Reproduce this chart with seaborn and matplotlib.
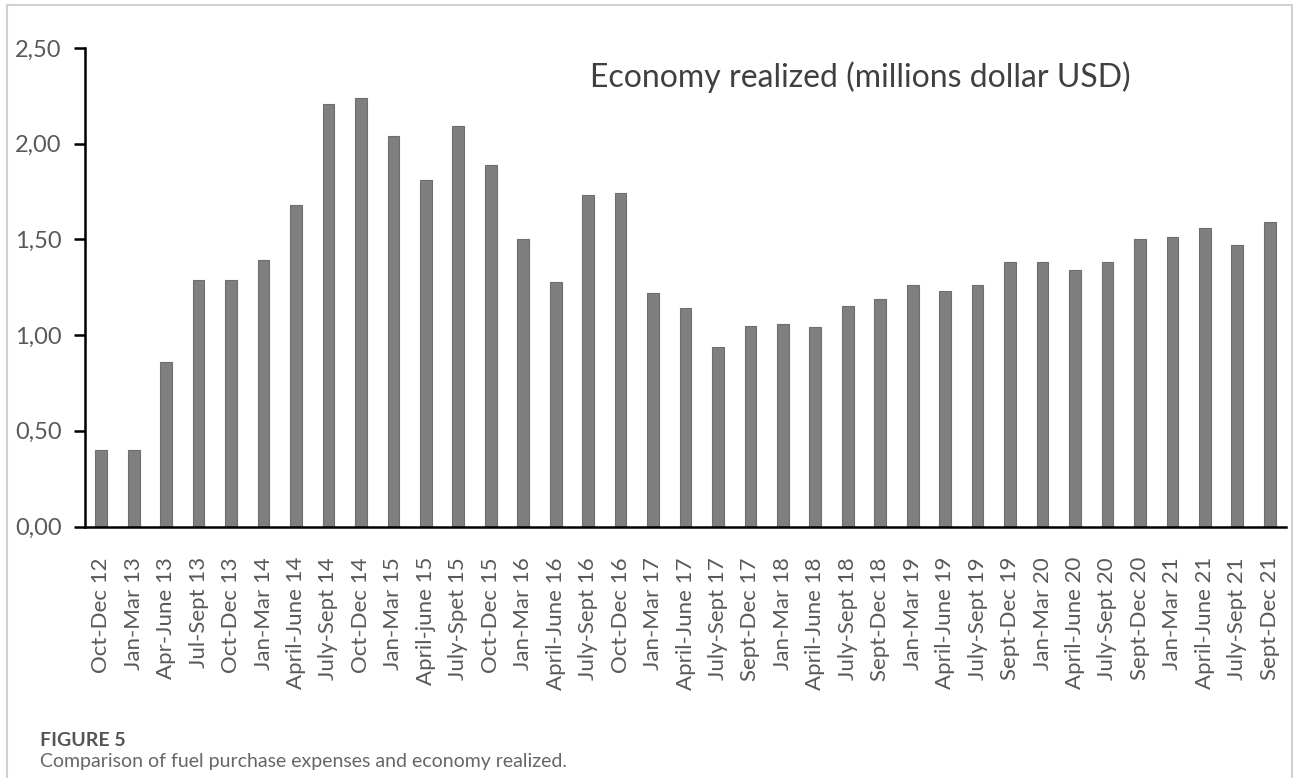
import matplotlib
matplotlib.use("Agg")
import matplotlib.pyplot as plt
import seaborn as sns
import pandas as pd
from matplotlib.patches import Rectangle
from matplotlib.ticker import FuncFormatter

categories = [
    "Oct-Dec 12", "Jan-Mar 13", "Apr-June 13", "Jul-Sept 13", "Oct-Dec 13",
    "Jan-Mar 14", "April-June 14", "July-Sept 14", "Oct-Dec 14", "Jan-Mar 15",
    "April-june 15", "July-Spet 15", "Oct-Dec 15", "Jan-Mar 16", "April-June 16",
    "July-Sept 16", "Oct-Dec 16", "Jan-Mar 17", "April-June 17", "July-Sept 17",
    "Sept-Dec 17", "Jan-Mar 18", "April-June 18", "July-Sept 18", "Sept-Dec 18",
    "Jan-Mar 19", "April-June 19", "July-Sept 19", "Sept-Dec 19", "Jan-Mar 20",
    "April-June 20", "July-Sept 20", "Sept-Dec 20", "Jan-Mar 21", "April-June 21",
    "July-Sept 21", "Sept-Dec 21",
]
values = [
    0.40, 0.40, 0.86, 1.29, 1.29,
    1.39, 1.68, 2.21, 2.24, 2.04,
    1.81, 2.09, 1.89, 1.50, 1.28,
    1.73, 1.74, 1.22, 1.14, 0.94,
    1.05, 1.06, 1.04, 1.15, 1.19,
    1.26, 1.23, 1.26, 1.38, 1.38,
    1.34, 1.38, 1.50, 1.51, 1.56,
    1.47, 1.59,
]
y_ticks = [0.0, 0.5, 1.0, 1.5, 2.0, 2.5]
title_text = "Economy realized (millions dollar USD)"
fig_label = "FIGURE 5"
caption = "Comparison of fuel purchase expenses and economy realized."

sns.set_theme(style="white")
plt.rcParams["font.family"] = ["Lato", "DejaVu Sans"]

df = pd.DataFrame({"period": categories, "value": values})

fig = plt.figure(figsize=(12.93, 7.78), dpi=100)
ax = fig.add_axes([85 / 1293, 1 - 526.5 / 778, (1286 - 85) / 1293, (526.5 - 48) / 778])

sns.barplot(data=df, x="period", y="value", color="#7f7f7f", width=0.36,
            saturation=1, edgecolor="#6e6e6e", linewidth=0.8, ax=ax)

ax.set_xlim(-0.5, len(categories) - 0.5)
ax.set_ylim(0, 2.5)
ax.set_yticks(y_ticks)
ax.yaxis.set_major_formatter(FuncFormatter(lambda v, p: f"{v:.2f}".replace(".", ",")))
ax.set_xlabel("")
ax.set_ylabel("")

for s in ["top", "right"]:
    ax.spines[s].set_visible(False)
ax.spines["left"].set_color("black")
ax.spines["left"].set_linewidth(1.8)
ax.spines["bottom"].set_color("black")
ax.spines["bottom"].set_linewidth(1.8)

ax.tick_params(axis="y", which="major", left=True, length=8, width=1.8,
               color="black", labelsize=17, labelcolor="#595959", pad=9)
ax.tick_params(axis="x", which="major", bottom=False, labelsize=16,
               labelcolor="#595959", pad=16)
plt.setp(ax.get_xticklabels(), rotation=90)

fig.text(590 / 1293, 1 - 77 / 778, title_text, fontsize=23, color="#404040",
         ha="left", va="center")

fig.text(40 / 1293, 1 - 740 / 778, fig_label, fontsize=14, color="#555555",
         fontweight="bold", ha="left", va="center")
fig.text(40 / 1293, 1 - 762 / 778, caption, fontsize=14, color="#666666",
         ha="left", va="center")

# light frame around the figure
fig.add_artist(Rectangle((7 / 1293, -0.05), (1292 - 7) / 1293, 1.05 - 5 / 778,
                         transform=fig.transFigure, fill=False,
                         edgecolor="#d0d0d0", linewidth=1.5))

fig.savefig("out.png", dpi=100)
